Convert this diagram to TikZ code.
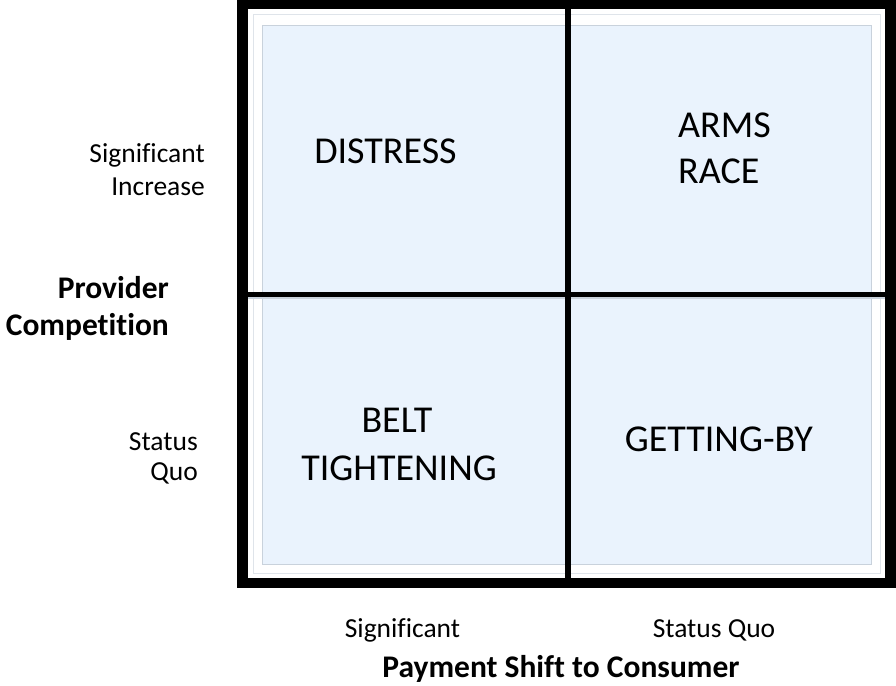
\documentclass[tikz,border=0pt]{standalone}
\usepackage{fontspec}
\setmainfont{Carlito}[Ligatures=NoCommon]
\definecolor{cellblue}{HTML}{EAF3FD}
\definecolor{bevelgrey}{HTML}{C9D2DC}
\begin{document}
\begin{tikzpicture}[x=1pt,y=-1pt,
  quad/.style={inner sep=0pt,font=\fontsize{38}{46}\selectfont},
  axislab/.style={inner sep=0pt,font=\fontsize{27.5}{33}\selectfont},
  axistitle/.style={inner sep=0pt,font=\fontsize{31.5}{37}\selectfont\bfseries},
  divider/.style={line cap=butt}]
\useasboundingbox (0,0) rectangle (896,685);
% framed matrix
\fill[black] (237,0) rectangle (896,588);
\fill[white] (248,9) rectangle (885,578);
\draw[bevelgrey!60,line width=0.8pt] (253,14) rectangle (880,573);
\fill[cellblue] (262,26) rectangle (871,564);
\draw[bevelgrey,line width=1pt] (262,26) rectangle (871,564);
% quadrant dividers
\coordinate (vt) at (568,9);
\coordinate (vb) at (568,578);
\coordinate (hl) at (248,294.5);
\coordinate (hr) at (885,294.5);
\draw[bevelgrey,line width=2pt] (248,298) -- (885,298);
\draw[divider,line width=5pt] (hl) -- (hr);
\draw[divider,line width=6pt] (vt) -- (vb);
% quadrant labels
\node[quad,anchor=base] (distress) at (385.5,163) {DISTRESS};
\node[quad,anchor=base west] (arms) at (678,137) {ARMS};
\node[quad,anchor=base west] (race) at (678,183) {RACE};
\node[quad,anchor=base] (belt) at (397,432) {BELT};
\node[quad,anchor=base east] (tight) at (497,480) {TIGHTENING};
\node[quad,anchor=base east] (getby) at (813,451) {GETTING-BY};
% vertical axis
\node[axislab,anchor=base east] (sig1) at (205,162) {Significant};
\node[axislab,anchor=base east] (inc) at (205,195) {Increase};
\node[axistitle,anchor=base east] (prov) at (169,298) {Provider};
\node[axistitle,anchor=base east] (comp) at (169,335) {Competition};
\node[axislab,anchor=base east] (stat1) at (198,450) {Status};
\node[axislab,anchor=base east] (quo1) at (198,480) {Quo};
% horizontal axis
\node[axislab,anchor=base] (sig2) at (402.5,637) {Significant};
\node[axislab,anchor=base] (sq2) at (714,637) {Status Quo};
\node[axistitle,anchor=base] (pay) at (561,677) {Payment Shift to Consumer};
\end{tikzpicture}
\end{document}
